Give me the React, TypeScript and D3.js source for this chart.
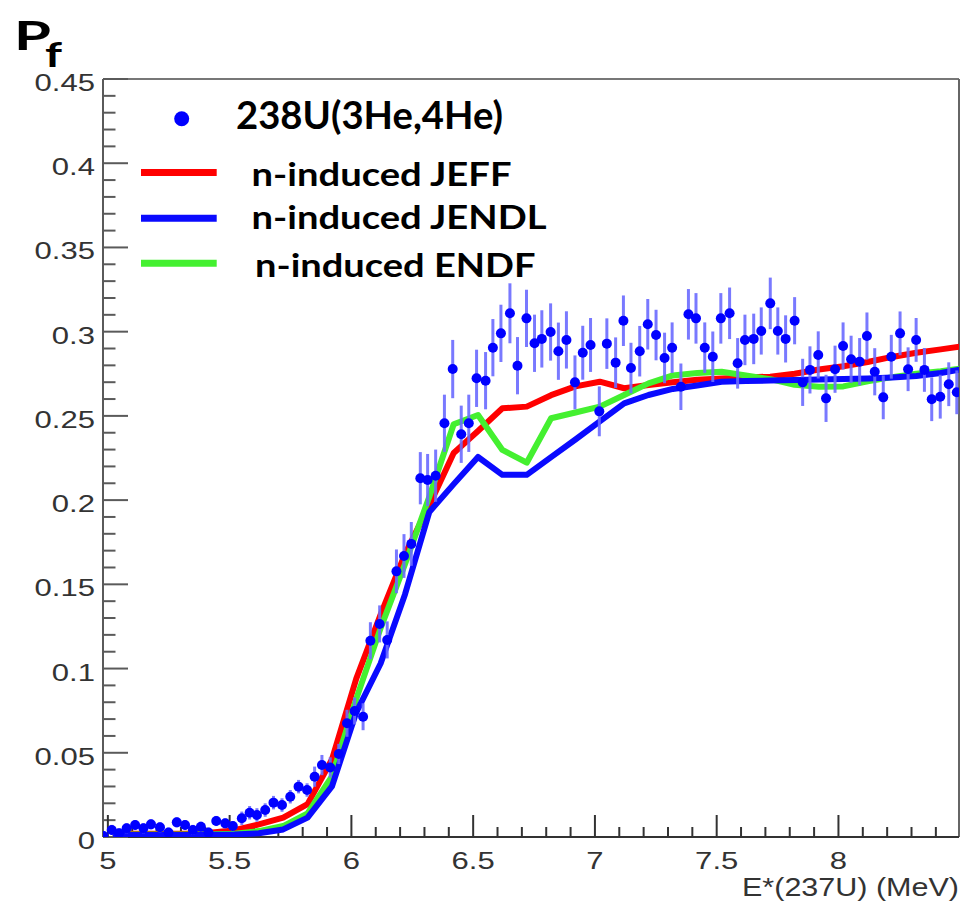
import React from 'react';
import * as d3 from 'd3';

const W = 965;
const H = 906;
const PLOT = { left: 103, right: 959, top: 79, bottom: 837 };

const xDomain: [number, number] = [4.98, 8.495];
const yDomain: [number, number] = [0, 0.45];

// Measured data 238U(3He,4He)
const dataE = [4.982, 5.016, 5.046, 5.077, 5.112, 5.146, 5.177, 5.214, 5.249, 5.283, 5.317, 5.349, 5.382, 5.413, 5.445, 5.482, 5.513, 5.550, 5.582, 5.612, 5.646, 5.680, 5.715, 5.749, 5.783, 5.818, 5.849, 5.879, 5.913, 5.948, 5.982, 6.013, 6.048, 6.078, 6.116, 6.147, 6.185, 6.216, 6.246, 6.283, 6.313, 6.346, 6.382, 6.416, 6.451, 6.482, 6.514, 6.551, 6.581, 6.614, 6.651, 6.682, 6.719, 6.752, 6.782, 6.818, 6.850, 6.883, 6.918, 6.950, 6.982, 7.018, 7.049, 7.085, 7.117, 7.148, 7.184, 7.217, 7.251, 7.286, 7.317, 7.353, 7.384, 7.415, 7.451, 7.484, 7.517, 7.553, 7.586, 7.616, 7.652, 7.683, 7.720, 7.751, 7.783, 7.820, 7.853, 7.883, 7.917, 7.949, 7.986, 8.019, 8.052, 8.087, 8.117, 8.149, 8.184, 8.217, 8.253, 8.286, 8.319, 8.353, 8.383, 8.418, 8.453, 8.486];
const dataP = [0.0006, 0.0042, 0.0022, 0.0052, 0.0071, 0.0052, 0.0075, 0.0058, 0.0026, 0.0087, 0.0071, 0.0042, 0.0061, 0.0026, 0.0095, 0.0081, 0.0065, 0.0111, 0.0144, 0.0131, 0.0160, 0.0204, 0.0190, 0.0239, 0.0299, 0.0279, 0.0358, 0.0427, 0.0413, 0.0493, 0.0675, 0.0748, 0.0714, 0.1165, 0.1265, 0.1170, 0.1577, 0.1668, 0.1740, 0.2130, 0.2119, 0.2145, 0.2456, 0.2778, 0.2391, 0.2456, 0.2723, 0.2709, 0.2905, 0.2990, 0.3109, 0.2798, 0.3079, 0.2931, 0.2957, 0.2998, 0.2884, 0.2951, 0.2699, 0.2875, 0.2921, 0.2527, 0.2929, 0.2816, 0.3065, 0.2784, 0.2884, 0.3044, 0.2980, 0.2844, 0.2905, 0.2673, 0.3103, 0.3079, 0.2905, 0.2851, 0.3079, 0.3109, 0.2812, 0.2951, 0.2957, 0.3004, 0.3168, 0.3004, 0.2957, 0.3065, 0.2699, 0.2773, 0.2862, 0.2604, 0.2777, 0.2915, 0.2836, 0.2822, 0.2974, 0.2762, 0.2610, 0.2851, 0.2990, 0.2777, 0.2951, 0.2773, 0.2599, 0.2614, 0.2688, 0.2640];
const dataErr = [0.003, 0.003, 0.003, 0.003, 0.003, 0.003, 0.003, 0.003, 0.003, 0.003, 0.003, 0.003, 0.003, 0.003, 0.003, 0.003, 0.003,
  0.004, 0.004, 0.004, 0.004, 0.004, 0.004, 0.004, 0.004, 0.004,
  0.006, 0.006, 0.006, 0.006,
  0.008, 0.008, 0.008,
  0.011, 0.011, 0.011,
  0.013, 0.013, 0.013,
  0.0155, 0.0155, 0.0155,
  0.017, 0.0173, 0.017, 0.017, 0.017, 0.017, 0.017, 0.017, 0.0178, 0.017, 0.017, 0.017, 0.017, 0.017, 0.017, 0.017, 0.016, 0.016, 0.016,
  0.0148, 0.015, 0.015, 0.015, 0.015, 0.015, 0.015, 0.015, 0.015, 0.015, 0.0138, 0.015, 0.015, 0.015, 0.015, 0.015, 0.0153, 0.015, 0.015, 0.015,
  0.014, 0.0153, 0.014, 0.014, 0.014, 0.014, 0.014, 0.014, 0.014, 0.014, 0.014, 0.014, 0.014, 0.014, 0.014,
  0.013, 0.013, 0.013, 0.013, 0.013, 0.013, 0.013, 0.013, 0.013, 0.013];

// n-induced evaluations
const modelE = [5.02, 5.12, 5.22, 5.32, 5.42, 5.52, 5.62, 5.72, 5.82, 5.92, 6.02, 6.12, 6.22, 6.32, 6.42, 6.52, 6.62, 6.72, 6.82, 6.92, 7.02, 7.12, 7.22, 7.32, 7.42, 7.52, 7.62, 7.72, 7.82, 7.92, 8.02, 8.12, 8.22, 8.32, 8.42, 8.52];
const jeff = [0.002, 0.002, 0.002, 0.002, 0.0025, 0.004, 0.0075, 0.0115, 0.0195, 0.046, 0.094, 0.132, 0.168, 0.197, 0.228, 0.241, 0.2545, 0.2555, 0.2623, 0.2675, 0.2703, 0.2664, 0.2683, 0.2700, 0.2715, 0.2722, 0.2728, 0.2733, 0.2750, 0.2775, 0.2795, 0.2820, 0.2850, 0.2875, 0.2895, 0.2915];
const endf = [0.0015, 0.0015, 0.0015, 0.0015, 0.0017, 0.002, 0.0035, 0.0065, 0.014, 0.036, 0.082, 0.124, 0.162, 0.202, 0.245, 0.2505, 0.2298, 0.2222, 0.2486, 0.252, 0.2555, 0.2624, 0.2693, 0.2740, 0.2755, 0.2762, 0.2740, 0.2718, 0.2685, 0.2673, 0.2675, 0.2705, 0.2730, 0.2750, 0.2765, 0.2785];
const jendl = [0.0012, 0.0012, 0.0012, 0.0012, 0.0013, 0.0015, 0.0022, 0.0045, 0.0115, 0.030, 0.074, 0.103, 0.144, 0.193, 0.2095, 0.2256, 0.215, 0.215, 0.2255, 0.236, 0.2468, 0.2574, 0.2624, 0.2660, 0.2680, 0.2703, 0.2707, 0.2710, 0.2713, 0.2716, 0.2719, 0.2722, 0.2728, 0.2737, 0.2755, 0.2780];

const xMajorTicks = [5, 5.5, 6, 6.5, 7, 7.5, 8];
const xTickLabels = ['5', '5.5', '6', '6.5', '7', '7.5', '8'];
const yMajorTicks = [0, 0.05, 0.1, 0.15, 0.2, 0.25, 0.3, 0.35, 0.4, 0.45];
const yTickLabels = ['0', '0.05', '0.1', '0.15', '0.2', '0.25', '0.3', '0.35', '0.4', '0.45'];

const legendLabels = ['238U(3He,4He)', 'n-induced JEFF', 'n-induced JENDL', 'n-induced ENDF'];

const RED = '#ff0000';
const BLUE = '#0a0aff';
const GREEN = '#44f030';
const AXIS = '#5a5a5a';
const TXT = '#333333';

export default function App() {
  const x = d3.scaleLinear().domain(xDomain).range([PLOT.left, PLOT.right]);
  const y = d3.scaleLinear().domain(yDomain).range([PLOT.bottom, PLOT.top]);

  const line = d3
    .line<number>()
    .x((_, i) => x(modelE[i]))
    .y((d) => y(d));

  const xMinor = d3.range(50, 85, 1).map((v) => v / 10).filter((v) => !xMajorTicks.some((m) => Math.abs(m - v) < 1e-6));
  const yMinor = d3.range(0, 46, 1).map((v) => v / 100).filter((v) => !yMajorTicks.some((m) => Math.abs(m - v) < 1e-6));

  const tickFont = { fontFamily: '"Liberation Sans", Arial, sans-serif', fontSize: 23, fill: TXT } as const;
  const legFont = { fontFamily: 'Lato, "Open Sans", sans-serif', fontWeight: 700, fill: '#000' } as const;

  return (
    <svg width={W} height={H} style={{ position: 'absolute', left: 0, top: 0, background: '#fff' }}>
      <defs>
        <clipPath id="plotclip">
          <rect x={PLOT.left} y={PLOT.top} width={PLOT.right - PLOT.left} height={PLOT.bottom - PLOT.top} />
        </clipPath>
      </defs>
      <rect x={0} y={0} width={W} height={H} fill="#fff" />

      {/* frame */}
      <line x1={PLOT.left} x2={PLOT.right} y1={PLOT.top} y2={PLOT.top} stroke="#777" strokeWidth={2} />
      <line x1={PLOT.right} x2={PLOT.right} y1={PLOT.top} y2={PLOT.bottom} stroke="#666" strokeWidth={2} />
      <line x1={PLOT.left} x2={PLOT.left} y1={PLOT.top} y2={PLOT.bottom} stroke={AXIS} strokeWidth={2} />
      <line x1={PLOT.left} x2={PLOT.right} y1={PLOT.bottom} y2={PLOT.bottom} stroke="#333" strokeWidth={2} />

      {/* y ticks */}
      {yMajorTicks.map((t) => (
        <line key={'ym' + t} x1={PLOT.left} x2={PLOT.left + 25} y1={y(t)} y2={y(t)} stroke={AXIS} strokeWidth={2} />
      ))}
      {yMinor.map((t) => (
        <line key={'yn' + t} x1={PLOT.left} x2={PLOT.left + 12.5} y1={y(t)} y2={y(t)} stroke={AXIS} strokeWidth={2} />
      ))}
      {yMajorTicks.map((t, i) => (
        <text key={'yl' + t} transform={`translate(95,${y(t) + 12}) scale(1.35,1)`} textAnchor="end" {...tickFont}>
          {yTickLabels[i]}
        </text>
      ))}

      {/* x ticks */}
      {xMajorTicks.map((t) => (
        <line key={'xm' + t} x1={x(t)} x2={x(t)} y1={PLOT.bottom} y2={PLOT.bottom - 22} stroke="#333" strokeWidth={2} />
      ))}
      {xMinor.map((t) => (
        <line key={'xn' + t} x1={x(t)} x2={x(t)} y1={PLOT.bottom} y2={PLOT.bottom - 10} stroke="#333" strokeWidth={2} />
      ))}
      {xMajorTicks.map((t, i) => (
        <text key={'xl' + t} transform={`translate(${x(t)},${PLOT.bottom + 31.5}) scale(1.35,1)`} textAnchor="middle" {...tickFont}>
          {xTickLabels[i]}
        </text>
      ))}

      {/* axis titles */}
      <text x={742} y={896} fontFamily='"Liberation Sans", Arial, sans-serif' fontSize={26} fill={TXT} textLength={217} lengthAdjust="spacingAndGlyphs">
        E*(237U) (MeV)
      </text>
      <text x={14} y={50} {...legFont} fontSize={40} textLength={37} lengthAdjust="spacingAndGlyphs">P</text>
      <text x={45} y={66.5} {...legFont} fontSize={34} textLength={17} lengthAdjust="spacingAndGlyphs">f</text>

      {/* model curves */}
      <g clipPath="url(#plotclip)" fill="none" strokeWidth={6} strokeLinejoin="round">
        <path d={line(jeff) || ''} stroke={RED} />
        <path d={line(endf) || ''} stroke={GREEN} />
        <path d={line(jendl) || ''} stroke={BLUE} />
      </g>

      {/* data */}
      <g clipPath="url(#plotclip)">
        {dataE.map((e, i) => (
          <line key={'eb' + i} x1={x(e)} x2={x(e)} y1={y(dataP[i] - dataErr[i])} y2={y(dataP[i] + dataErr[i])} stroke="#6a6aff" strokeOpacity={0.9} strokeWidth={3} />
        ))}
        {dataE.map((e, i) => (
          <circle key={'pt' + i} cx={x(e)} cy={y(dataP[i])} r={5} fill="#0000ff" />
        ))}
      </g>

      {/* legend */}
      <circle cx={181.7} cy={118.7} r={7.5} fill="#0000ff" />
      <line x1={141} x2={216.7} y1={172.5} y2={172.5} stroke={RED} strokeWidth={7} />
      <line x1={141} x2={216.7} y1={218.3} y2={218.3} stroke={BLUE} strokeWidth={7} />
      <line x1={141} x2={216.7} y1={263.3} y2={263.3} stroke={GREEN} strokeWidth={7} />
      <text x={236} y={129.3} {...legFont} fontSize={38.5} textLength={267} lengthAdjust="spacingAndGlyphs">{legendLabels[0]}</text>
      <text x={251.5} y={185.7} {...legFont} fontSize={32} textLength={260} lengthAdjust="spacingAndGlyphs">{legendLabels[1]}</text>
      <text x={251.5} y={229.3} {...legFont} fontSize={32} textLength={295} lengthAdjust="spacingAndGlyphs">{legendLabels[2]}</text>
      <text x={255} y={276.7} {...legFont} fontSize={32} textLength={280.5} lengthAdjust="spacingAndGlyphs">{legendLabels[3]}</text>
    </svg>
  );
}
